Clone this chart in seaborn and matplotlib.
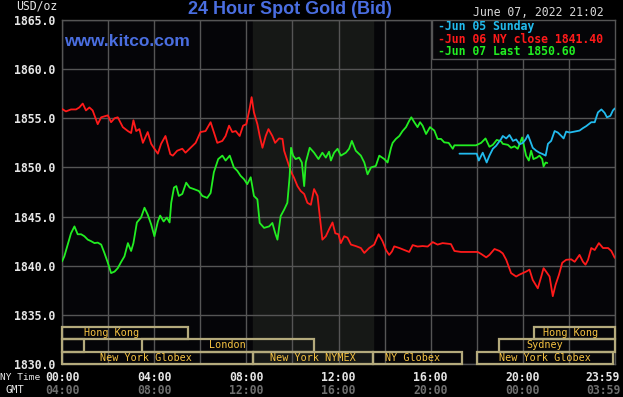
import matplotlib
matplotlib.use("Agg")
import matplotlib.pyplot as plt
import matplotlib.transforms as mtransforms
from matplotlib.patches import Rectangle
import seaborn as sns
import pandas as pd

# Jun 06 (NY close 1841.40), hours in NY time
jun06_hours = [0.0, 0.17, 0.39, 0.61, 0.75, 0.90, 1.04, 1.19, 1.33, 1.55, 1.70, 1.99, 2.13, 2.28, 2.42,
               2.64, 2.86, 3.0, 3.10, 3.22, 3.36, 3.51, 3.72, 3.87, 4.01, 4.16, 4.30, 4.49, 4.70,
               4.81, 5.0, 5.22, 5.36, 5.58, 5.80, 6.01, 6.23, 6.45, 6.59, 6.74, 6.96, 7.10, 7.25,
               7.39, 7.54, 7.71, 7.86, 8.0, 8.14, 8.23, 8.33, 8.48, 8.58, 8.70, 8.84, 8.96, 9.13,
               9.25, 9.42, 9.57, 9.64, 9.78, 9.93, 10.07, 10.22, 10.36, 10.51, 10.65, 10.80, 10.94,
               11.09, 11.19, 11.30, 11.45, 11.59, 11.74, 11.86, 12.0, 12.10, 12.25, 12.39, 12.54,
               12.75, 12.97, 13.12, 13.33, 13.55, 13.74, 13.91, 14.06, 14.20, 14.32, 14.42, 14.64,
               14.86, 15.07, 15.22, 15.43, 15.65, 15.87, 16.09, 16.30, 16.52, 16.88, 17.03, 17.32,
               17.68, 18.04, 18.19, 18.41, 18.55, 18.77, 18.99, 19.13, 19.28, 19.49, 19.71, 19.86,
               20.0, 20.14, 20.29, 20.43, 20.65, 20.80, 20.90, 21.01, 21.16, 21.30, 21.42, 21.57,
               21.71, 21.88, 22.10, 22.25, 22.46, 22.61, 22.72, 22.83, 22.97, 23.12, 23.30, 23.48,
               23.70, 23.84, 23.99]
jun06_price = [1855.95, 1855.7, 1855.9, 1855.9, 1856.1, 1856.5, 1855.8, 1856.1, 1855.8, 1854.4, 1855.1,
               1855.3, 1854.6, 1855.0, 1855.1, 1854.1, 1853.7, 1853.5, 1854.8, 1853.7, 1853.9, 1852.5,
               1853.6, 1852.4, 1851.9, 1851.4, 1852.4, 1853.2, 1851.35, 1851.2, 1851.7, 1851.9,
               1851.5, 1852.0, 1852.5, 1853.6, 1853.7, 1854.6, 1853.6, 1852.5, 1852.7, 1853.2,
               1854.25, 1853.6, 1853.7, 1853.2, 1854.25, 1854.4, 1855.95, 1857.15, 1855.6, 1854.4,
               1853.2, 1852.0, 1853.2, 1853.9, 1853.2, 1852.5, 1852.95, 1852.9, 1851.7, 1850.7,
               1849.6, 1848.95, 1848.1, 1847.6, 1847.3, 1846.4, 1846.2, 1847.8, 1847.1, 1845.0,
               1842.65, 1843.0, 1843.7, 1844.4, 1843.3, 1843.2, 1842.3, 1843.0, 1842.85, 1842.15,
               1842.0, 1841.8, 1841.3, 1841.8, 1842.15, 1843.2, 1842.5, 1841.6, 1841.1, 1841.45,
               1841.97, 1841.8, 1841.6, 1841.4, 1842.1, 1841.95, 1842.0, 1841.95, 1842.4, 1842.15,
               1842.3, 1842.2, 1841.5, 1841.4, 1841.4, 1841.4, 1841.2, 1840.85, 1841.1, 1841.7,
               1841.5, 1841.25, 1840.6, 1839.25, 1838.9, 1839.1, 1839.25, 1839.4, 1839.6, 1838.55,
               1837.7, 1838.9, 1839.75, 1839.4, 1838.9, 1836.9, 1838.05, 1839.1, 1840.3, 1840.6,
               1840.65, 1840.4, 1841.1, 1840.4, 1840.1, 1840.6, 1841.8, 1841.6, 1842.3, 1841.8,
               1841.8, 1841.5, 1840.8]

# Jun 07 (Last 1850.60)
jun07_hours = [0.0, 0.10, 0.25, 0.39, 0.54, 0.68, 0.83, 0.97, 1.12, 1.26, 1.41, 1.55, 1.70, 1.84, 1.99,
               2.13, 2.28, 2.42, 2.57, 2.71, 2.86, 3.0, 3.10, 3.25, 3.43, 3.58, 3.72, 3.87, 4.01,
               4.16, 4.26, 4.41, 4.55, 4.67, 4.74, 4.86, 4.96, 5.07, 5.22, 5.39, 5.54, 5.72, 5.94,
               6.09, 6.30, 6.45, 6.59, 6.78, 6.96, 7.10, 7.28, 7.46, 7.61, 7.75, 7.90, 8.04, 8.19,
               8.33, 8.48, 8.58, 8.77, 8.99, 9.13, 9.25, 9.35, 9.49, 9.64, 9.78, 9.88, 9.94, 10.03,
               10.14, 10.29, 10.41, 10.51, 10.58, 10.75, 10.94, 11.13, 11.30, 11.45, 11.59, 11.67,
               11.81, 11.96, 12.10, 12.32, 12.46, 12.58, 12.75, 12.97, 13.12, 13.26, 13.41, 13.62,
               13.77, 13.99, 14.13, 14.28, 14.35, 14.49, 14.64, 14.78, 14.93, 15.07, 15.16, 15.29,
               15.43, 15.54, 15.65, 15.80, 15.97, 16.16, 16.30, 16.45, 16.59, 16.78, 16.96, 17.03,
               17.97, 18.19, 18.38, 18.55, 18.70, 18.87, 19.06, 19.13, 19.35, 19.49, 19.64, 19.78,
               19.88, 19.97, 20.03, 20.14, 20.26, 20.36, 20.46, 20.61, 20.72, 20.84, 20.90, 20.99,
               21.06]
jun07_price = [1840.44, 1840.95, 1842.15, 1843.3, 1844.0, 1843.2, 1843.2, 1843.0, 1842.65, 1842.5,
               1842.3, 1842.35, 1842.15, 1841.3, 1840.3, 1839.25, 1839.4, 1839.75, 1840.4, 1840.95,
               1842.3, 1841.5, 1842.3, 1844.4, 1844.9, 1845.9, 1845.2, 1844.2, 1843.0, 1844.5,
               1845.1, 1844.5, 1844.9, 1844.4, 1846.4, 1847.95, 1848.1, 1847.1, 1847.3, 1848.45,
               1847.95, 1847.8, 1847.6, 1847.1, 1846.9, 1847.4, 1849.5, 1850.85, 1851.2, 1850.7,
               1851.2, 1850.0, 1849.65, 1849.15, 1848.8, 1848.3, 1849.0, 1847.1, 1846.75, 1844.35,
               1843.85, 1844.0, 1844.35, 1843.35, 1842.65, 1845.05, 1845.7, 1846.4, 1849.1, 1852.0,
               1851.2, 1850.85, 1851.0, 1850.5, 1848.1, 1850.5, 1852.0, 1851.5, 1850.85, 1851.5,
               1851.0, 1851.6, 1850.7, 1851.5, 1851.9, 1851.2, 1851.5, 1851.9, 1852.7, 1851.7,
               1851.2, 1850.5, 1849.3, 1850.0, 1850.15, 1851.2, 1850.85, 1850.5, 1852.0, 1852.5,
               1852.9, 1853.2, 1853.7, 1854.1, 1854.75, 1855.1, 1854.6, 1854.1, 1854.6, 1854.25,
               1853.4, 1854.1, 1853.75, 1852.9, 1852.9, 1852.55, 1852.5, 1851.9, 1852.25, 1852.25,
               1852.5, 1852.95, 1852.1, 1852.3, 1852.8, 1852.65, 1852.4, 1852.3, 1852.0, 1852.15,
               1851.9, 1852.5, 1853.05, 1852.4, 1851.2, 1850.7, 1851.7, 1850.85, 1851.0, 1851.2,
               1850.85, 1850.1, 1850.5, 1850.45]

# Jun 05 Sunday
jun05_hours = [17.25, 18.0, 18.09, 18.26, 18.43, 18.55, 18.70, 18.84, 19.06, 19.13, 19.28, 19.42, 19.57,
               19.71, 19.86, 20.0, 20.12, 20.22, 20.32, 20.43, 20.58, 20.72, 20.87, 20.99, 21.09,
               21.23, 21.38, 21.52, 21.67, 21.77, 21.88, 22.03, 22.25, 22.46, 22.61, 22.75, 22.97,
               23.12, 23.26, 23.41, 23.55, 23.65, 23.80, 23.91, 23.99]
jun05_price = [1851.4, 1851.4, 1850.7, 1851.5, 1850.5, 1851.2, 1851.9, 1852.2, 1852.9, 1853.2,
               1852.95, 1853.3, 1852.7, 1852.85, 1852.35, 1852.5, 1852.85, 1853.3, 1852.7,
               1852.0, 1851.7, 1851.5, 1851.35, 1851.2, 1852.4, 1852.7, 1853.7, 1853.55, 1853.2,
               1852.95, 1853.65, 1853.55, 1853.65, 1853.75, 1854.0, 1854.2, 1854.6, 1854.6,
               1855.6, 1855.9, 1855.55, 1855.1, 1855.25, 1855.8, 1856.0]

legend_labels = ["Jun 05 Sunday", "Jun 06 NY close 1841.40", "Jun 07 Last 1850.60"]
line_colors = ["#22bbee", "#ff1a1a", "#22ee22"]

ny_ticks = [0, 4, 8, 12, 16, 20]
ny_labels = ["00:00", "04:00", "08:00", "12:00", "16:00", "20:00", "23:59"]
gmt_labels = ["04:00", "08:00", "12:00", "16:00", "20:00", "00:00", "03:59"]

# trading sessions: name, start, end, row (0 = top)
session_names = ["Hong Kong", "Hong Kong", "", "London", "Sydney",
                 "New York Globex", "New York NYMEX", "NY Globex", "New York Globex"]
session_start = [0, 20.5, 0, 3.47, 18.97, 0, 8.29, 13.5, 18.0]
session_end = [5.47, 24, 0.96, 10.94, 24, 8.29, 13.5, 17.35, 23.9]
session_row = [0, 0, 1, 1, 1, 2, 2, 2, 2]
session_text_x = [2.13, 22.05, 0, 7.16, 20.96, 3.65, 10.9, 15.23, 20.96]

df = pd.concat([
    pd.DataFrame({"hour": jun06_hours, "price": jun06_price, "day": legend_labels[1]}),
    pd.DataFrame({"hour": jun07_hours, "price": jun07_price, "day": legend_labels[2]}),
    pd.DataFrame({"hour": jun05_hours, "price": jun05_price, "day": legend_labels[0]}),
])

sns.set_theme(style="dark")
plt.rcParams["font.family"] = ["DejaVu Sans Mono", "DejaVu Sans"]

fig = plt.figure(figsize=(6.23, 3.97), dpi=100, facecolor="black")
ax = fig.add_axes([62 / 623, 1 - 364 / 397, 553 / 623, 344 / 397])
ax.set_facecolor("#050508")

# NYMEX open shading
ax.axvspan(8.29, 13.5, color="#161816", zorder=0)

sns.lineplot(data=df, x="hour", y="price", hue="day", sort=False, estimator=None,
             palette=dict(zip(legend_labels, line_colors)),
             hue_order=[legend_labels[1], legend_labels[2], legend_labels[0]],
             linewidth=1.3, legend=False, ax=ax, zorder=3)

ax.set_xlim(0, 24)
ax.set_ylim(1830, 1865)
ax.set_xticks(range(0, 25, 2))
ax.set_xticklabels([])
ax.set_yticks(range(1830, 1866, 5))
ax.set_yticklabels([f"{v:.1f}" for v in range(1830, 1866, 5)])
ax.tick_params(axis="both", length=0)
ax.tick_params(axis="y", pad=5, labelsize=8.3, labelcolor="#e6e6e6")
for lab in ax.get_yticklabels():
    lab.set_fontweight("bold")
ax.set_xlabel("")
ax.set_ylabel("")
ax.grid(True, color="#555555", linewidth=1.0, zorder=1)
ax.set_axisbelow(True)
for sp in ax.spines.values():
    sp.set_color("#555555")
    sp.set_linewidth(1.0)

trans = mtransforms.blended_transform_factory(ax.transData, ax.transAxes)

# session boxes
row_h = 0.0363
for name, s, e, r, tx in zip(session_names, session_start, session_end, session_row, session_text_x):
    y0 = (2 - r) * row_h
    ax.add_patch(Rectangle((s, y0), e - s, row_h, transform=trans, fill=False,
                           edgecolor="#b4aa7c", linewidth=1.6, zorder=4, clip_on=False))
    if name:
        ax.text(tx, y0 + row_h / 2, name, transform=trans, ha="center", va="center",
                fontsize=7.3, color="#f5c242", zorder=5)

# time labels
for h, ny, gmt in zip(ny_ticks + [23.48], ny_labels, gmt_labels):
    ax.text(h, -0.038, ny, transform=trans, ha="center", va="center",
            fontsize=8.3, color="#e6e6e6", fontweight="bold")
    ax.text(h, -0.0756, gmt, transform=trans, ha="center", va="center",
            fontsize=8.3, color="#6e6e6e", fontweight="bold")
fig.text(40 / 623, 1 - 377 / 397, "NY Time", ha="right", va="center", fontsize=6.8, color="#e6e6e6")
fig.text(24 / 623, 1 - 390 / 397, "GMT", ha="right", va="center", fontsize=7.5, color="#e6e6e6")

# legend box
ax.add_patch(Rectangle((0.669, 0.8866), 0.331, 0.1134, transform=ax.transAxes,
                       facecolor="#050508", edgecolor="#555555", linewidth=1.0, zorder=6))
for i, (lab, col) in enumerate(zip(legend_labels, line_colors)):
    ax.text(0.68, 0.98 - i * 0.0365, "-" + lab, transform=ax.transAxes, ha="left", va="center",
            fontsize=8.3, color=col, fontweight="bold", zorder=7)

# header texts
fig.text(290 / 623, 1 - 10 / 397, "24 Hour Spot Gold (Bid)", ha="center", va="center",
         fontsize=13, color="#4a6ee0", family="Liberation Sans", fontweight="bold")
fig.text(64 / 623, 1 - 42 / 397, "www.kitco.com", ha="left", va="center",
         fontsize=12.5, color="#4a6ee0", family="Liberation Sans", fontweight="bold")
fig.text(16 / 623, 1 - 6 / 397, "USD/oz", ha="left", va="center", fontsize=8.3, color="#e6e6e6")
fig.text(604 / 623, 1 - 13 / 397, "June 07, 2022 21:02", ha="right", va="center",
         fontsize=8.3, color="#d8d8d8")

fig.savefig("out.png", dpi=100, facecolor="black")
